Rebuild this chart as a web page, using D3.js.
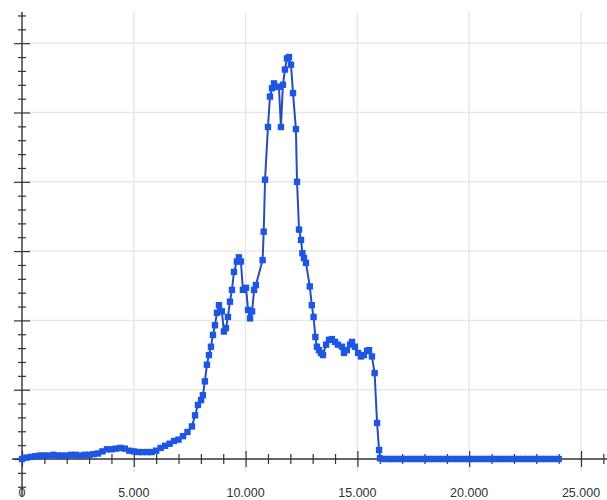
<!DOCTYPE html>
<html>
<head>
<meta charset="utf-8">
<script src="https://cdn.jsdelivr.net/npm/d3@7"></script>
<style>
  body { margin: 0; background: #fff; }
  svg { display: block; }
  .lbl { font-family: "Liberation Sans", Arial, sans-serif; font-size: 12.5px; fill: #333; }
</style>
</head>
<body>
<div class="Graph"></div>
<script>
// x positions of the samples
var xs = [0, 200, 400, 600, 800, 1000, 1200, 1400, 1600, 1800, 2000, 2200, 2400, 2600, 2800, 3000,
    3200, 3400, 3600, 3800, 4000, 4200, 4400, 4600, 4800, 5000, 5200, 5400, 5600, 5800, 6000,
    6200, 6400, 6600, 6800, 7000, 7200, 7400, 7600, 7740, 7870, 8010, 8090, 8180, 8270, 8360,
    8450, 8540, 8630, 8720, 8810, 8940, 9030, 9120, 9210, 9300, 9390, 9480, 9610, 9700, 9790,
    9880, 10020, 10110, 10200, 10290, 10380, 10460, 10760, 10810, 10870, 11000, 11090, 11180,
    11270, 11360, 11490, 11580, 11670, 11760, 11850, 11940, 12030, 12120, 12250, 12300, 12390,
    12480, 12540, 12610, 12700, 12870, 12960, 13040, 13120, 13190, 13280, 13370, 13460, 13600,
    13730, 13860, 14000, 14130, 14310, 14400, 14530, 14670, 14760, 14890, 15030, 15160, 15290,
    15430, 15520, 15650, 15770, 15880, 15970, 16010,
    16200, 16400, 16600, 16800, 17000, 17200, 17400, 17600, 17800, 18000, 18200, 18400, 18600,
    18800, 19000, 19200, 19400, 19600, 19800, 20000, 20200, 20400, 20600, 20800, 21000, 21200,
    21400, 21600, 21800, 22000, 22200, 22400, 22600, 22800, 23000, 23200, 23400, 23600, 23800, 24000];
// measured values
var ys = [0, 0.02, 0.03, 0.04, 0.05, 0.05, 0.05, 0.06, 0.05, 0.05, 0.05, 0.06, 0.06, 0.05, 0.06, 0.06,
    0.07, 0.08, 0.11, 0.14, 0.14, 0.15, 0.16, 0.15, 0.12, 0.11, 0.10, 0.10, 0.10, 0.10, 0.12,
    0.16, 0.19, 0.22, 0.26, 0.28, 0.33, 0.39, 0.47, 0.63, 0.78, 0.85, 0.92, 1.12, 1.36, 1.50,
    1.62, 1.79, 1.93, 2.11, 2.22, 2.13, 1.84, 1.89, 2.05, 2.27, 2.44, 2.70, 2.85, 2.91, 2.85,
    2.44, 2.47, 2.15, 2.03, 2.13, 2.44, 2.51, 2.87, 3.28, 4.03, 4.79, 5.23, 5.35,
    5.42, 5.37, 5.37, 4.79, 5.40, 5.62, 5.78, 5.80, 5.69, 5.28, 4.76, 4.00, 3.31,
    3.16, 2.97, 2.90, 2.83, 2.49, 2.22, 2.05, 1.76, 1.62, 1.57, 1.53, 1.50, 1.65,
    1.72, 1.73, 1.69, 1.65, 1.62, 1.53, 1.57, 1.65, 1.69, 1.62, 1.53, 1.48, 1.50,
    1.56, 1.57, 1.48, 1.24, 0.52, 0.13, 0.01,
    0, 0, 0, 0, 0, 0, 0, 0, 0, 0, 0, 0, 0,
    0, 0, 0, 0, 0, 0, 0, 0, 0, 0, 0, 0, 0,
    0, 0, 0, 0, 0, 0, 0, 0, 0, 0, 0, 0, 0, 0];
var xMajor = [0, 5000, 10000, 15000, 20000, 25000];
var xLabels = ["0", "5.000", "10.000", "15.000", "20.000", "25.000"];
var yMajor = [0, 1, 2, 3, 4, 5, 6];

var W = 607, H = 500;
var data = xs.map((d, i) => [d, ys[i]]);

var svg = d3.select(".Graph").append("svg")
    .attr("width", W).attr("height", H);

var x = d3.scaleLinear().domain([0, 25000]).range([22, 581]);
var y = d3.scaleLinear().domain([0, 6]).range([459, 43.2]);

// grid
svg.append("g").selectAll("line").data(xMajor.slice(1)).enter().append("line")
    .attr("x1", d => x(d)).attr("x2", d => x(d))
    .attr("y1", y(6.45)).attr("y2", 472)
    .attr("stroke", "#e8e8e8").attr("stroke-width", 1.5);
svg.append("g").selectAll("line").data(yMajor.slice(1)).enter().append("line")
    .attr("x1", 22).attr("x2", 607)
    .attr("y1", d => y(d)).attr("y2", d => y(d))
    .attr("stroke", "#e8e8e8").attr("stroke-width", 1.5);

// x axis
var gx = svg.append("g").attr("transform", "translate(0," + y(0) + ")");
gx.call(d3.axisBottom(x).tickValues(d3.range(0, 27000, 1000)).tickFormat("").tickSizeOuter(0));
gx.select(".domain").remove();
gx.append("line").attr("x1", 12).attr("x2", 607).attr("stroke", "#333").attr("stroke-width", 1.4);
gx.selectAll(".tick line")
    .attr("stroke", "#333").attr("stroke-width", 1.2)
    .attr("y1", d => d % 5000 === 0 ? -8 : -5)
    .attr("y2", d => d % 5000 === 0 ? 8 : 5);

// y axis
var gy = svg.append("g").attr("transform", "translate(22,0)");
gy.call(d3.axisLeft(y).tickValues(d3.range(-0.4, 6.41, 0.2)).tickFormat("").tickSizeOuter(0));
gy.select(".domain").remove();
gy.append("line").attr("y1", y(6.45)).attr("y2", 497).attr("stroke", "#333").attr("stroke-width", 1.4);
gy.selectAll(".tick line")
    .attr("stroke", "#333").attr("stroke-width", 1.2)
    .attr("x1", d => Math.abs(d - Math.round(d)) < 0.01 ? -8 : -4)
    .attr("x2", d => Math.abs(d - Math.round(d)) < 0.01 ? 8 : 4);

// labels
svg.append("g").selectAll("text").data(xMajor).enter().append("text")
    .attr("class", "lbl")
    .attr("x", d => x(d)).attr("y", 497)
    .attr("text-anchor", "middle")
    .text((d, i) => xLabels[i]);

// series
svg.append("path").datum(data)
    .attr("fill", "none").attr("stroke", "#2a4cb8").attr("stroke-width", 2)
    .attr("d", d3.line().x(d => x(d[0])).y(d => y(d[1])));

svg.append("g").selectAll("rect").data(data).enter().append("rect")
    .attr("x", d => x(d[0]) - 3.2).attr("y", d => y(d[1]) - 3.2)
    .attr("width", 6.4).attr("height", 6.4)
    .attr("fill", "#1d56e3");
</script>
</body>
</html>
